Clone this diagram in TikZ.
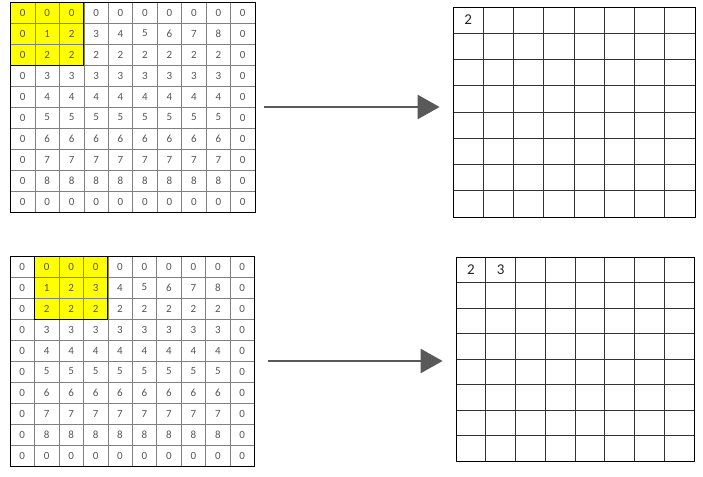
\documentclass[tikz,border=0pt]{standalone}
\usepackage{fontspec}
\setmainfont{Carlito}
\usetikzlibrary{arrows.meta}
\definecolor{cellyellow}{RGB}{255,255,0}
\definecolor{digitgray}{RGB}{85,85,85}
\definecolor{arrowgray}{RGB}{89,89,89}

% padded input: name, first yellow column
\newcommand\inputgrid[2]{%
        \fill[cellyellow] ({(#2-1)*24.45},0) rectangle ++(73.35,63);
        \foreach \i in {1,...,9} {
                \draw[inline] (\i*24.45,0) -- (\i*24.45,210);
                \draw[inline] (0,\i*21) -- (244.5,\i*21);
        }
        \draw[boxline] ({(#2-1)*24.45},0) rectangle ++(73.35,63);
        \node[gridframe, minimum width=244.5pt, minimum height=210pt] (#1) at (122.25,105) {};
        \foreach \r in {1,...,10}
                \foreach \c in {1,...,10} {
                        \pgfmathtruncatemacro\val{(\r==1||\r==10||\c==1||\c==10) ? 0 : (\r==2 ? \c-1 : \r-1)}
                        \node[incell] (#1-\r-\c) at ({(\c-0.5)*24.45},{(\r-0.5)*21}) {\val};
                }
}

% output grid: name, cell width, cell height
\newcommand\outputgrid[3]{%
        \foreach \i in {1,...,7} {
                \draw[outline] (\i*#2,0) -- (\i*#2,8*#3);
                \draw[outline] (0,\i*#3) -- (8*#2,\i*#3);
        }
        \node[gridframe, minimum width=8*#2 pt, minimum height=8*#3 pt] (#1) at (4*#2,4*#3) {};
}

\begin{document}
\begin{tikzpicture}[x=1pt,y=-1pt,
        inline/.style={black!50, line width=.55pt},
        outline/.style={black!80, line width=.75pt},
        boxline/.style={black, line width=.8pt},
        gridframe/.style={draw=black, line width=.8pt, inner sep=0pt},
        incell/.style={inner sep=0pt, text=digitgray, font=\fontsize{11}{11}\selectfont},
        outcell/.style={inner sep=0pt, text=black!85, font=\fontsize{15}{15}\selectfont},
        flow/.style={arrowgray, line width=2.5pt, -{Triangle[length=22pt, width=24pt]}}]
        \useasboundingbox (0,0) rectangle (703,476);

        \begin{scope}[shift={(10.5,2)}]
        \inputgrid{inA}{1}
        \end{scope}
        \begin{scope}[shift={(453,7)}]
        \outputgrid{outA}{30.25}{26.25}
        \node[outcell] (outA-1-1) at (15.1,13.1) {2};
        \end{scope}

        \begin{scope}[shift={(10,256)}]
        \inputgrid{inB}{2}
        \end{scope}
        \begin{scope}[shift={(456,257)}]
        \outputgrid{outB}{29.75}{25.5}
        \node[outcell] (outB-1-1) at (14.9,12.8) {2};
        \node[outcell] (outB-1-2) at (44.6,12.8) {3};
        \end{scope}

        \draw[flow, shorten <=9pt, shorten >=13pt] (inA.east) -- (inA.east -| outA.west);
        \draw[flow, shorten <=13pt, shorten >=13pt] (inB.east) -- (inB.east -| outB.west);
\end{tikzpicture}
\end{document}
